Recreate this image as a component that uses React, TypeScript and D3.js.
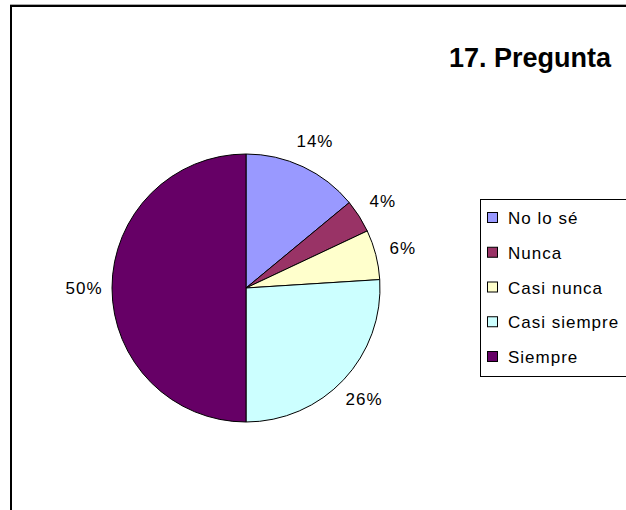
import * as d3 from 'd3'

const categories = ['No lo sé', 'Nunca', 'Casi nunca', 'Casi siempre', 'Siempre']
const values = [14, 4, 6, 26, 50]
const labels = ['14%', '4%', '6%', '26%', '50%']
const colors = ['#9999FF', '#993366', '#FFFFCC', '#CCFFFF', '#660066']

const W = 626
const H = 510
const CX = 246
const CY = 288
const R = 134
const FONT = '"Liberation Sans", Arial, sans-serif'

export default function App() {
  const pie = d3.pie<number>().sort(null).value(d => d)
  const arcs = pie(values)
  const arc = d3.arc<d3.PieArcDatum<number>>().innerRadius(0).outerRadius(R)
  const labelR = R + 28

  const legendY = d3.scaleLinear().domain([0, categories.length - 1]).range([224, 363])

  return (
    <svg
      width={W}
      height={H}
      viewBox={`0 0 ${W} ${H}`}
      style={{ position: 'absolute', left: 0, top: 0, display: 'block', background: '#fff' }}
    >
      {/* chart frame, runs past the right and bottom edges */}
      <line x1={10} y1={4.5} x2={W} y2={4.5} stroke="#aaa" strokeWidth={1} />
      <rect x={11} y={6} width={1000} height={1000} fill="none" stroke="#000" strokeWidth={2} />

      <text x={449} y={67} fontFamily={FONT} fontWeight="bold" fontSize={27} fill="#000">
        17. Pregunta
      </text>

      <g transform={`translate(${CX},${CY})`}>
        {arcs.map((a, i) => (
          <path key={categories[i]} d={arc(a)!} fill={colors[i]} stroke="#000" strokeWidth={1} />
        ))}
        {arcs.map((a, i) => {
          const mid = (a.startAngle + a.endAngle) / 2
          return (
            <text
              key={labels[i]}
              x={Math.sin(mid) * labelR}
              y={-Math.cos(mid) * labelR}
              dy="0.35em"
              textAnchor="middle"
              fontFamily={FONT}
              fontSize={17}
              letterSpacing={1}
              fill="#000"
            >
              {labels[i]}
            </text>
          )
        })}
      </g>

      {/* legend */}
      <rect x={480.5} y={199.5} width={300} height={177} fill="#fff" stroke="#000" strokeWidth={1} />
      {categories.map((c, i) => (
        <g key={c} transform={`translate(0,${legendY(i)})`}>
          <rect x={487.5} y={-11.5} width={10} height={10} fill={colors[i]} stroke="#000" strokeWidth={1} />
          <text x={508} y={0} fontFamily={FONT} fontSize={17} letterSpacing={1} fill="#000">
            {c}
          </text>
        </g>
      ))}
    </svg>
  )
}
